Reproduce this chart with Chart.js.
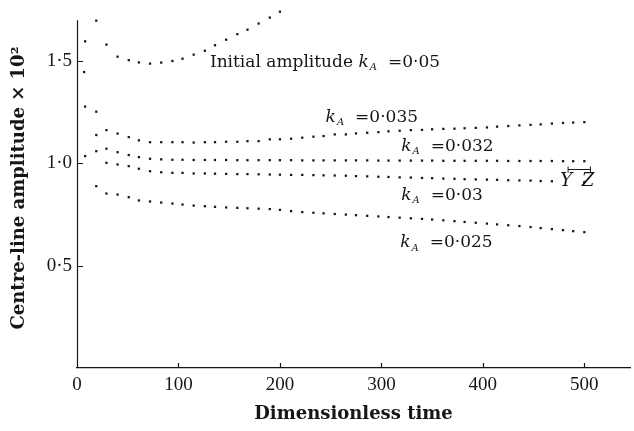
<!DOCTYPE html>
<html>
<head>
<meta charset="utf-8">
<script src="https://cdn.jsdelivr.net/npm/chart.js@4.4.0/dist/chart.umd.min.js"></script>
<style>
  html, body { margin: 0; padding: 0; background: #fff; }
  #chart { display: block; }
</style>
</head>
<body>
<canvas id="chart" width="634" height="431"></canvas>
<script>
// sample times shared by the four lower runs
const times = [8, 19, 29, 40, 51, 61, 72, 83, 94, 104,
    115, 126, 136, 147, 158, 168, 179, 190, 200, 211,
    222, 233, 243, 254, 265, 275, 286, 297, 307, 318,
    329, 340, 350, 361, 372, 382, 393, 404, 414, 425,
    436, 447, 457, 468, 479, 489, 500];

const amp035 = [1.278, 1.253, 1.163, 1.146, 1.129, 1.113, 1.104, 1.104, 1.104, 1.104,
    1.102, 1.104, 1.104, 1.106, 1.106, 1.109, 1.109, 1.118, 1.118, 1.121,
    1.126, 1.131, 1.134, 1.142, 1.142, 1.147, 1.150, 1.153, 1.157, 1.160,
    1.163, 1.164, 1.167, 1.169, 1.170, 1.172, 1.174, 1.176, 1.180, 1.183,
    1.186, 1.189, 1.191, 1.195, 1.198, 1.200, 1.202];

const amp032 = [null, 1.139, 1.072, 1.055, 1.041, 1.031, 1.023, 1.020, 1.018, 1.018,
    1.017, 1.017, 1.017, 1.017, 1.016, 1.016, 1.016, 1.016, 1.016, 1.016,
    1.015, 1.015, 1.015, 1.015, 1.015, 1.015, 1.015, 1.014, 1.014, 1.014,
    1.014, 1.014, 1.014, 1.013, 1.013, 1.013, 1.013, 1.013, 1.013, 1.012,
    1.012, 1.012, 1.012, 1.012, 1.011, 1.011, 1.011];

const amp030 = [1.036, 1.060, 1.003, 0.995, 0.987, 0.974, 0.962, 0.957, 0.954, 0.954,
    0.951, 0.951, 0.950, 0.949, 0.948, 0.948, 0.947, 0.946, 0.945, 0.944,
    0.944, 0.943, 0.942, 0.941, 0.940, 0.938, 0.937, 0.935, 0.934, 0.932,
    0.931, 0.929, 0.928, 0.926, 0.925, 0.923, 0.922, 0.921, 0.920, 0.918,
    0.917, 0.916, 0.914, 0.913, null, null, 0.909];

const amp025 = [null, 0.889, 0.853, 0.848, 0.835, 0.819, 0.814, 0.809, 0.804, 0.799,
    0.794, 0.791, 0.788, 0.785, 0.783, 0.781, 0.779, 0.777, 0.773, 0.767,
    0.762, 0.759, 0.756, 0.753, 0.750, 0.747, 0.744, 0.741, 0.738, 0.735,
    0.732, 0.729, 0.726, 0.722, 0.718, 0.714, 0.710, 0.706, 0.702, 0.698,
    0.694, 0.689, 0.684, 0.679, 0.674, 0.669, 0.664];

// the k_A = 0.05 run only goes to about t = 200
const times05 = [7, 8, 19, 29, 40, 51, 61, 72, 83, 94,
    104, 115, 126, 136, 147, 158, 168, 179, 190, 200];
const amp05 = [1.447, 1.597, 1.698, 1.581, 1.522, 1.505, 1.494, 1.488, 1.493, 1.501,
    1.512, 1.532, 1.551, 1.578, 1.605, 1.632, 1.654, 1.684, 1.713, 1.742];

const xTicks = [0, 100, 200, 300, 400, 500];
const yTicks = [0.5, 1.0, 1.5];
const yAxisTop = 1.7;   // drawn axis stops here, dots go a bit higher

// curve labels, anchored in data units
const curveLabels = [
    { prefix: 'Initial amplitude ', value: '0·05', x: 131, y: 1.495 },
    { prefix: '', value: '0·035', x: 245, y: 1.226 },
    { prefix: '', value: '0·032', x: 319.5, y: 1.081 },
    { prefix: '', value: '0·03', x: 319.5, y: 0.845 },
    { prefix: '', value: '0·025', x: 318.5, y: 0.611 }
];

const SERIF = '"DejaVu Serif", "Liberation Serif", serif';
const TIMES = '"Liberation Serif", "DejaVu Serif", serif';
const INK = '#161616';

function toPoints(xs, ys) {
    return xs.map((x, i) => ({ x: x, y: ys[i] })).filter(p => p.y !== null);
}

function dotted(data) {
    return {
        data: data,
        showLine: false,
        pointStyle: 'rect',
        pointRadius: 1.6,
        pointBackgroundColor: INK,
        pointBorderWidth: 0
    };
}

// y axis line, k_A labels, Y / Z marks and inward tick marks
const annotations = {
    id: 'annotations',
    afterDraw(chart) {
        const ctx = chart.ctx;
        const xs = chart.scales.x;
        const ys = chart.scales.y;
        const area = chart.chartArea;

        ctx.save();
        ctx.strokeStyle = INK;
        ctx.lineWidth = 1.2;
        ctx.beginPath();
        ctx.moveTo(area.left + 0.5, ys.getPixelForValue(0));
        ctx.lineTo(area.left + 0.5, ys.getPixelForValue(yAxisTop));
        yTicks.forEach(v => {
            const py = Math.round(ys.getPixelForValue(v)) + 0.5;
            ctx.moveTo(area.left, py);
            ctx.lineTo(area.left + 6, py);
        });
        xTicks.forEach(v => {
            const px = Math.round(xs.getPixelForValue(v)) + 0.5;
            ctx.moveTo(px, area.bottom);
            ctx.lineTo(px, area.bottom - 5);
        });
        ctx.stroke();

        ctx.fillStyle = INK;
        ctx.textBaseline = 'middle';
        ctx.textAlign = 'left';
        curveLabels.forEach(l => {
            let px = xs.getPixelForValue(l.x);
            const py = ys.getPixelForValue(l.y);
            ctx.font = '17px ' + SERIF;
            if (l.prefix) {
                ctx.fillText(l.prefix, px, py);
                px += ctx.measureText(l.prefix).width;
            }
            ctx.font = 'italic 17px ' + SERIF;
            ctx.fillText('k', px, py);
            px += ctx.measureText('k').width + 1;
            ctx.font = 'italic 10px ' + SERIF;
            ctx.fillText('A', px, py + 5);
            px += ctx.measureText('A').width + 11;
            ctx.font = '17px ' + SERIF;
            ctx.fillText('=' + l.value, px, py);
        });

        // Y . Z marks with the small span bar above them
        ctx.font = 'italic 18px ' + SERIF;
        ctx.textAlign = 'center';
        ctx.fillText('Y', xs.getPixelForValue(482), ys.getPixelForValue(0.914));
        ctx.fillText('Z', xs.getPixelForValue(503.5), ys.getPixelForValue(0.914));
        const bx0 = xs.getPixelForValue(484);
        const bx1 = xs.getPixelForValue(506);
        const by = Math.round(ys.getPixelForValue(0.972)) + 0.5;
        ctx.lineWidth = 1;
        ctx.beginPath();
        ctx.moveTo(bx0, by);
        ctx.lineTo(bx1, by);
        ctx.moveTo(bx0, by - 3);
        ctx.lineTo(bx0, by + 3);
        ctx.moveTo(bx1, by - 3);
        ctx.lineTo(bx1, by + 3);
        ctx.stroke();
        ctx.restore();
    }
};

new Chart(document.getElementById('chart'), {
    type: 'scatter',
    data: {
        datasets: [
            dotted(toPoints(times05, amp05)),
            dotted(toPoints(times, amp035)),
            dotted(toPoints(times, amp032)),
            dotted(toPoints(times, amp030)),
            dotted(toPoints(times, amp025))
        ]
    },
    options: {
        responsive: false,
        animation: false,
        events: [],
        layout: { padding: { top: 8, right: 1, left: 0, bottom: 0 } },
        plugins: {
            legend: { display: false },
            tooltip: { enabled: false }
        },
        scales: {
            x: {
                type: 'linear',
                min: 0,
                max: 545,
                afterBuildTicks: function(scale) {
                    scale.ticks = xTicks.map(v => ({ value: v }));
                },
                afterFit: function(scale) {
                    scale.height = 63;
                },
                grid: { display: false, drawTicks: false },
                border: { display: true, color: INK, width: 1.2 },
                ticks: {
                    color: INK,
                    padding: 6,
                    maxRotation: 0,
                    font: { family: TIMES, size: 19 }
                },
                title: {
                    display: true,
                    text: 'Dimensionless time',
                    color: INK,
                    padding: { top: 0, bottom: 6 },
                    font: { family: SERIF, size: 18, weight: 'bold' }
                }
            },
            y: {
                type: 'linear',
                min: 0,
                max: 1.76,
                afterBuildTicks: function(scale) {
                    scale.ticks = yTicks.map(v => ({ value: v }));
                },
                afterFit: function(scale) {
                    scale.width = 77;
                    scale.paddingTop = 0;
                    scale.paddingBottom = 0;
                },
                grid: { display: false, drawTicks: false },
                border: { display: false },
                ticks: {
                    color: INK,
                    padding: 5,
                    font: { family: TIMES, size: 19 },
                    callback: function(value) {
                        return value.toFixed(1).replace('.', '·');
                    }
                },
                title: {
                    display: true,
                    text: 'Centre-line amplitude × 10²',
                    color: INK,
                    padding: { top: 9, bottom: 0 },
                    font: { family: SERIF, size: 18, weight: 'bold' }
                }
            }
        }
    },
    plugins: [annotations]
});
</script>
</body>
</html>
